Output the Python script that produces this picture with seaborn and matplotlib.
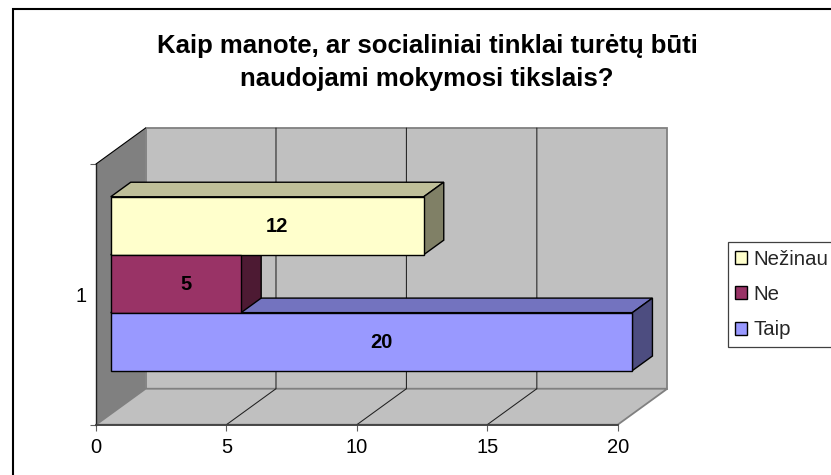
import matplotlib
matplotlib.use("Agg")
import matplotlib.pyplot as plt
import pandas as pd
import seaborn as sns
from matplotlib.lines import Line2D
from matplotlib.patches import Polygon
from matplotlib.transforms import Affine2D

sns.set_theme(style="white")
plt.rcParams["font.family"] = ["Liberation Sans", "DejaVu Sans"]

# chart values
category = ["1"]
series = ["Nežinau", "Ne", "Taip"]
values = [12, 5, 20]
colors = ["#FFFFCC", "#993366", "#9999FF"]
title = "Kaip manote, ar socialiniai tinklai turėtų būti\nnaudojami mokymosi tikslais?"
xticks = [0, 5, 10, 15, 20]

W, H = 831, 475
# fake 3d depth of the plot box, in data units
DX, DY = 1.9, 0.138
BAR_DEPTH = 0.297  # where bars start, fraction of the box depth
BAR_THICK = 0.404  # bar thickness, fraction of the box depth


def proj(x, y, d):
    return (x + d * DX, y - d * DY)


def face(ax, pts, fc, ec="none", lw=0.0, z=2):
    ax.add_patch(Polygon([proj(*p) for p in pts], closed=True, facecolor=fc, edgecolor=ec,
                         linewidth=lw, zorder=z, clip_on=False, joinstyle="miter"))


def shade(c, k):
    r, g, b = matplotlib.colors.to_rgb(c)
    return (r * k, g * k, b * k)


df = pd.DataFrame({"group": category * 3, "series": series, "value": values})

fig = plt.figure(figsize=(W / 100, H / 100), dpi=100)
ax = fig.add_axes([96 / W, 1 - 424.7 / H, 521.7 / W, 260.7 / H])
ax.patch.set_alpha(0)

sns.barplot(data=df, x="value", y="group", hue="series", hue_order=series, palette=colors,
            orient="h", width=2 / 3, gap=0, saturation=1, edgecolor="black", linewidth=1.0,
            errorbar=None, ax=ax, zorder=6)
ax.set_xlim(0, 20)
ax.set_ylim(0.5, -0.5)
ax.set_xlabel("")
ax.set_ylabel("")

# box walls
y0, y1 = -0.5, 0.5
xmax = xticks[-1]
face(ax, [(0, y0, 1), (xmax, y0, 1), (xmax, y1, 1), (0, y1, 1)], "#C0C0C0", "#808080", 1.3)
face(ax, [(0, y0, 0), (0, y0, 1), (0, y1, 1), (0, y1, 0)], "#808080", z=2.1)
face(ax, [(0, y1, 0), (0, y1, 1), (xmax, y1, 1), (xmax, y1, 0)], "#C0C0C0", "#808080", 1.3, z=2.2)
for t in xticks[1:-1]:
    xs, ys = zip(proj(t, y1, 0), proj(t, y1, 1), proj(t, y0, 1))
    ax.add_line(Line2D(xs, ys, color="#202020", lw=0.75, zorder=3, clip_on=False))
xs, ys = zip(proj(0, y0, 0), proj(0, y0, 1))
ax.add_line(Line2D(xs, ys, color="black", lw=0.8, zorder=3, clip_on=False))

# bar side and top faces, back to front, then the seaborn front faces on top
shift = Affine2D().translate(BAR_DEPTH * DX, -BAR_DEPTH * DY)
d0, d1 = BAR_DEPTH, BAR_DEPTH + BAR_THICK
bars = [c[0] for c in ax.containers]
for i, (b, val, col) in reversed(list(enumerate(zip(bars, values, colors)))):
    top, bot = b.get_y(), b.get_y() + b.get_height()
    z = 4 + (len(bars) - i) * 0.1
    face(ax, [(0, top, d0), (0, top, d1), (val, top, d1), (val, top, d0)], shade(col, 0.75), "black", 1.0, z)
    face(ax, [(val, top, d0), (val, top, d1), (val, bot, d1), (val, bot, d0)], shade(col, 0.5), "black", 1.0, z)
    b.set_transform(shift + ax.transData)
    b.set_clip_on(False)
    ax.annotate(str(val), proj(val / 2, (top + bot) / 2, d0), xytext=(7, 1), textcoords="offset points",
                ha="center", va="center_baseline", fontsize=14.5, fontweight="bold", color="black", zorder=8)

# axes
sns.despine(ax=ax, top=True, right=True)
ax.spines["left"].set(color="#202020", linewidth=1.0, zorder=7)
ax.spines["bottom"].set(color="#404040", linewidth=1.3, zorder=7)
ax.set_xticks(xticks)
ax.set_yticks([0])
ax.set_yticklabels(category)
ax.set_yticks([y0, y1], minor=True)
ax.tick_params(axis="x", length=4, width=0.8, color="#606060", pad=5.5, labelsize=14.5, labelcolor="black", bottom=True)
ax.tick_params(axis="y", which="major", length=0, pad=7, labelsize=14.5, labelcolor="black")
ax.tick_params(axis="y", which="minor", length=4, width=0.8, color="#606060", left=True)

# legend runs up to the right edge like the source picture
handles, labels = ax.get_legend_handles_labels()
leg = ax.legend(handles, labels, loc="upper left", bbox_to_anchor=(727.5 / W, 1 - 242.2 / H),
                bbox_transform=fig.transFigure, fontsize=14.7, frameon=True, fancybox=False,
                framealpha=1, edgecolor="#404040", borderaxespad=0, borderpad=0.36,
                handlelength=0.6, handleheight=0.6, handletextpad=0.3, labelspacing=0.8)
leg.get_frame().set_linewidth(0.9)
leg.set_zorder(9)

# title
fig.text(427 / W, 1 - 85.7 / H, title, ha="center", va="baseline", multialignment="center",
         fontsize=18.5, fontweight="bold", color="black", linespacing=1.47)

# chart frame: only top and left sides are inside the picture
fig.add_artist(Line2D([12.5 / W, 12.5 / W, 1], [0, 1 - 9 / H, 1 - 9 / H], color="black", lw=1.5,
                      solid_joinstyle="miter"))

fig.savefig("out.png", dpi=100)
